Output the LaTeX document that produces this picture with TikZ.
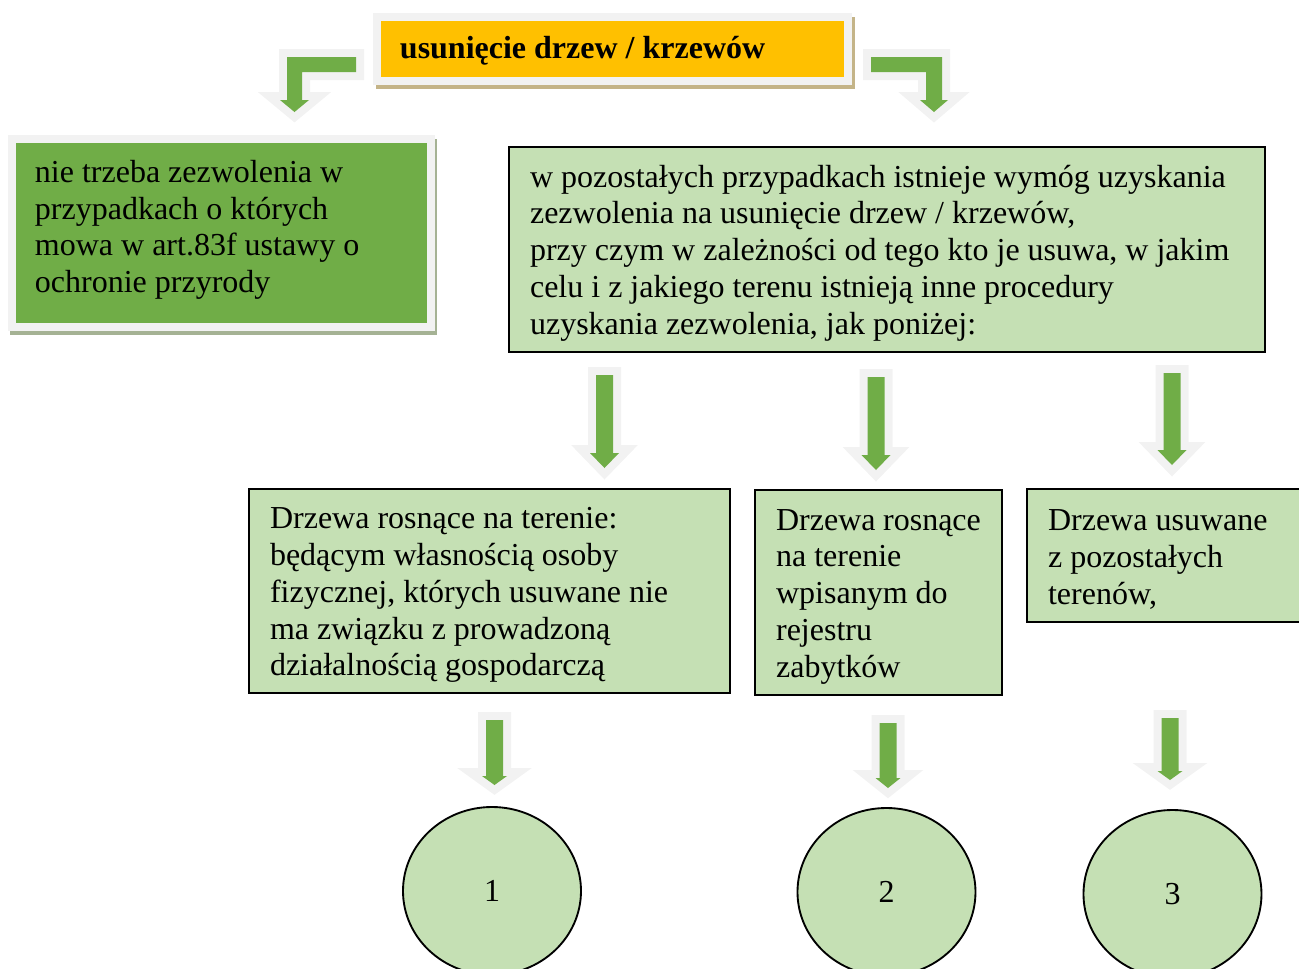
\documentclass[tikz,border=0pt]{standalone}
\usepackage{fontspec}
\setmainfont{Liberation Serif}
\usetikzlibrary{shapes.geometric,shadows}

\definecolor{titleorange}{HTML}{FFC000}
\definecolor{leafgreen}{HTML}{70AD47}
\definecolor{palegreen}{HTML}{C5E0B4}
\definecolor{glowgray}{HTML}{F2F2F2}
\definecolor{shadowtan}{RGB}{196,180,136}
\definecolor{shadowsage}{RGB}{165,178,148}

\begin{document}
\begin{tikzpicture}[x=0.375pt,y=-0.375pt,
    every node/.style={font=\fontsize{12pt}{13.8pt}\selectfont},
    framed/.style={draw=glowgray,line width=3pt,align=flush left,inner xsep=8.6pt},
    box/.style={rectangle,draw=black,line width=0.6pt,fill=palegreen,
                align=flush left,inner xsep=7.9pt,text height=11pt},
    goal/.style={ellipse,draw=black,line width=0.7pt,fill=palegreen,
                 minimum width=66.75pt,minimum height=63pt},
    blockarrow/.style={fill=leafgreen,preaction={draw=glowgray,line width=6pt,
                       line join=miter,miter limit=20}}]

  \useasboundingbox (0,0) rectangle (1299,969);

  \node[framed,fill=titleorange,text width=159.4pt,minimum height=24pt,
        text height=10pt,font=\fontsize{12pt}{13.8pt}\selectfont\bfseries,
        general shadow={draw=shadowtan,fill=shadowtan,line width=3pt,
                        shadow xshift=1pt,shadow yshift=-1.5pt}]
        (title) at (612.5,49) {usunięcie drzew / krzewów};
  \node[framed,fill=leafgreen,text width=139.9pt,minimum height=70.5pt,
        text height=6pt,
        general shadow={draw=shadowsage,fill=shadowsage,line width=3pt,
                        shadow xshift=0.8pt,shadow yshift=-1.6pt}]
        (free) at (221.5,233) {nie trzeba zezwolenia w\\
        przypadkach o których\\ mowa w art.83f ustawy o\\ ochronie przyrody};
  \node[box,text width=267.7pt,minimum height=76.9pt] (permit) at (887,249.5)
        {w pozostałych przypadkach istnieje wymóg uzyskania\\
         zezwolenia na usunięcie drzew / krzewów,\\
         przy czym w zależności od tego kto je usuwa, w jakim\\
         celu i z jakiego terenu istnieją inne procedury\\
         uzyskania zezwolenia, jak poniżej:};
  \node[box,text width=164.6pt,minimum height=76.5pt] (private) at (489.5,591)
        {Drzewa rosnące na terenie:\\ będącym własnością osoby\\
         fizycznej, których usuwane nie\\ ma związku z prowadzoną\\
         działalnością gospodarczą};
  \node[box,text width=76.8pt,minimum height=76.9pt] (monument) at (878.5,592.5)
        {Drzewa~rosnące\\ na terenie\\ wpisanym do\\ rejestru\\ zabytków};
  \node[box,text width=88.45pt,minimum height=49.9pt] (other) at (1166,555.5)
        {Drzewa usuwane\\ z pozostałych\\ terenów,};

  \node[goal] (g1) at (492,891) {1};
  \node[goal] (g2) at (886.5,892) {2};
  \node[goal] (g3) at (1172.5,894) {3};

  % bent arrows from the title
  \path[blockarrow] (356,57) -- (287,57) -- (287,100) -- (280,100) -- (294.5,112)
    -- (309,100) -- (302,100) -- (302,72) -- (356,72) -- cycle;
  \path[blockarrow] (871,57) -- (942,57) -- (942,100) -- (948,100) -- (934,112)
    -- (920,100) -- (926,100) -- (926,72) -- (871,72) -- cycle;

  % straight arrows
  \foreach \x/\ya/\yb/\yc/\w in {604.5/375/453/468/14.5, 876/377/455/470/14.5,
      1172/373/450/465/14.5, 494.5/720/776/785/12.5, 888/723/778/788/12.5,
      1170/718/771/780/12.5}
    \path[blockarrow] (\x-8.5,\ya) -- (\x+8.5,\ya) -- (\x+8.5,\yb) -- (\x+\w,\yb)
      -- (\x,\yc) -- (\x-\w,\yb) -- (\x-8.5,\yb) -- cycle;
\end{tikzpicture}
\end{document}
